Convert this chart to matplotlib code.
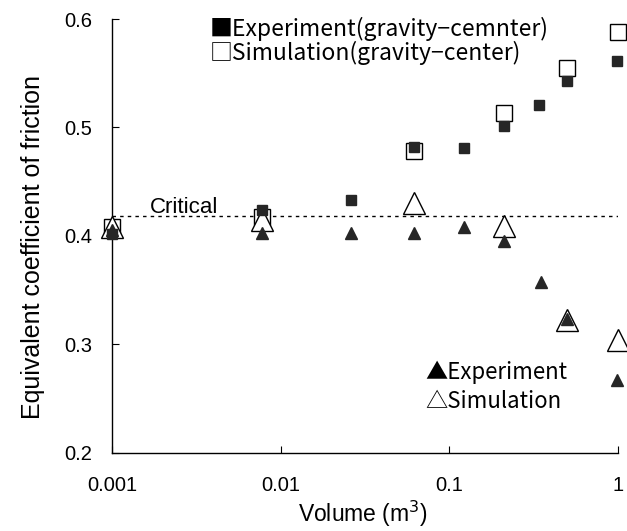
import matplotlib
matplotlib.use("Agg")
import matplotlib.pyplot as plt

plt.rcParams['font.family'] = ['Liberation Sans', 'DejaVu Sans']

# 体积 (m3)
vol_exp_sq = [0.001, 0.0078, 0.026, 0.062, 0.123, 0.21, 0.34, 0.5, 0.99]
mu_exp_sq = [0.402, 0.424, 0.433, 0.482, 0.481, 0.501, 0.521, 0.543, 0.561]

vol_sim_sq = [0.001, 0.0078, 0.062, 0.21, 0.5, 1.0]
mu_sim_sq = [0.408, 0.417, 0.478, 0.513, 0.555, 0.588]

vol_exp_tri = [0.001, 0.0078, 0.026, 0.062, 0.123, 0.21, 0.35, 0.5, 0.99]
mu_exp_tri = [0.405, 0.403, 0.403, 0.403, 0.408, 0.395, 0.357, 0.323, 0.267]

vol_sim_tri = [0.001, 0.0078, 0.062, 0.21, 0.5, 1.0]
mu_sim_tri = [0.408, 0.415, 0.43, 0.409, 0.322, 0.304]

critical = 0.418
x_ticks = [0.001, 0.01, 0.1, 1]
x_labels = ['0.001', '0.01', '0.1', '1']
y_ticks = [0.2, 0.3, 0.4, 0.5, 0.6]

fig = plt.figure(figsize=(6.27, 5.31), dpi=100)
ax = fig.add_axes([0.1786, 0.1475, 0.807, 0.8167])

dark = '#262626'
ax.plot(vol_exp_sq, mu_exp_sq, 's', ms=6.5, color=dark, mec=dark, zorder=4, clip_on=False)
ax.plot(vol_sim_sq, mu_sim_sq, 's', ms=12, mfc='white', mec='black', mew=1.0, zorder=3, clip_on=False)
ax.plot(vol_sim_tri, mu_sim_tri, '^', ms=15.5, mfc='white', mec='black', mew=1.0, zorder=3, clip_on=False)
ax.plot(vol_exp_tri, mu_exp_tri, '^', ms=8, color=dark, mec=dark, zorder=5, clip_on=False)

# 临界线
ax.plot([0.001, 1.0], [critical, critical], linestyle=(0, (2.5, 3)), color='black', lw=1.0, zorder=2)
ax.text(0.00168, 0.4215, 'Critical', fontsize=16, va='baseline', ha='left')

ax.set_xscale('log')
ax.set_xlim(0.001, 1.0)
ax.set_ylim(0.2, 0.6)
ax.set_xticks(x_ticks)
ax.set_xticklabels(x_labels)
ax.set_yticks(y_ticks)
ax.set_yticklabels(['%.1f' % v for v in y_ticks])
ax.minorticks_off()
ax.tick_params(axis='both', direction='in', length=5, width=0.8, labelsize=14.5)
ax.tick_params(axis='y', pad=14)
ax.tick_params(axis='x', pad=17)

for s in ['top', 'right']:
    ax.spines[s].set_visible(False)
ax.spines['left'].set_linewidth(1.0)
ax.spines['bottom'].set_linewidth(1.0)

# 坐标轴标题
fig.text(363 / 627, 2 / 531, 'Volume (m$^3$)', fontsize=16.5, ha='center', va='bottom')
fig.text(33 / 627, 1 - 247 / 531, 'Equivalent coefficient of friction', fontsize=18,
         ha='center', va='center', rotation=90)

# 图例文字
leg_font = ['Noto Sans CJK JP', 'DejaVu Sans']
ax.text(0.0038, 0.591, '■Experiment(gravity\u2212cemnter)', fontsize=16.5, family=leg_font, va='center')
ax.text(0.0038, 0.569, '□Simulation(gravity\u2212center)', fontsize=16.5, family=leg_font, va='center')
ax.text(0.072, 0.2745, '▲Experiment', fontsize=16, family=leg_font, va='center')
ax.text(0.072, 0.2468, '△Simulation', fontsize=16, family=leg_font, va='center')

fig.savefig('out.png', dpi=100)
